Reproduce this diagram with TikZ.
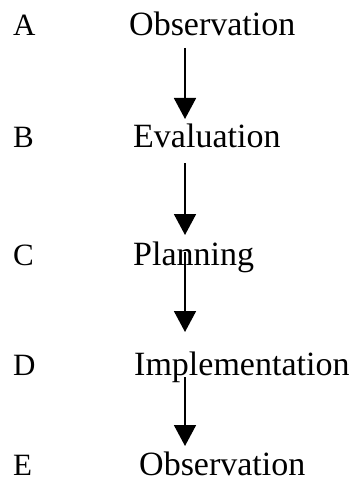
\documentclass[tikz,border=0pt]{standalone}
\usepackage{fontspec}
\setmainfont{Liberation Serif}
\usetikzlibrary{arrows.meta,calc}
\begin{document}
\begin{tikzpicture}[x=1pt,y=-1pt,
  letter/.style={anchor=base west,inner sep=0pt,font=\fontsize{31}{36}\selectfont},
  word/.style={anchor=base west,inner sep=0pt,font=\fontsize{34}{40}\selectfont},
  arr/.style={line width=1.8pt,-{Triangle[width=22pt,length=21pt]}}]
\useasboundingbox (0,0) rectangle (356,481);
\node[letter] (la) at (13,36) {A};
\node[letter] (lb) at (13,147) {B};
\node[letter] (lc) at (13,265) {C};
\node[letter] (ld) at (13,375) {D};
\node[letter] (le) at (13,475) {E};
\node[word] (wa) at (129,36) {Observation};
\node[word] (wb) at (133,147) {Evaluation};
\node[word] (wc) at (133,265) {Planning};
\node[word] (wd) at (134,375) {Implementation};
\node[word] (we) at (139,475) {Observation};
\coordinate (ax) at (185,0);
\draw[arr] ($(wa.base -| ax)+(0,12)$) -- ($(wb.base -| ax)+(0,-28)$);
\draw[arr] ($(wb.base -| ax)+(0,16)$) -- ($(wc.base -| ax)+(0,-30)$);
\draw[arr] ($(wc.base -| ax)+(0,-13)$) -- ($(wd.base -| ax)+(0,-43)$);
\draw[arr] ($(wd.base -| ax)+(0,2)$) -- ($(we.base -| ax)+(0,-29)$);
\end{tikzpicture}
\end{document}
